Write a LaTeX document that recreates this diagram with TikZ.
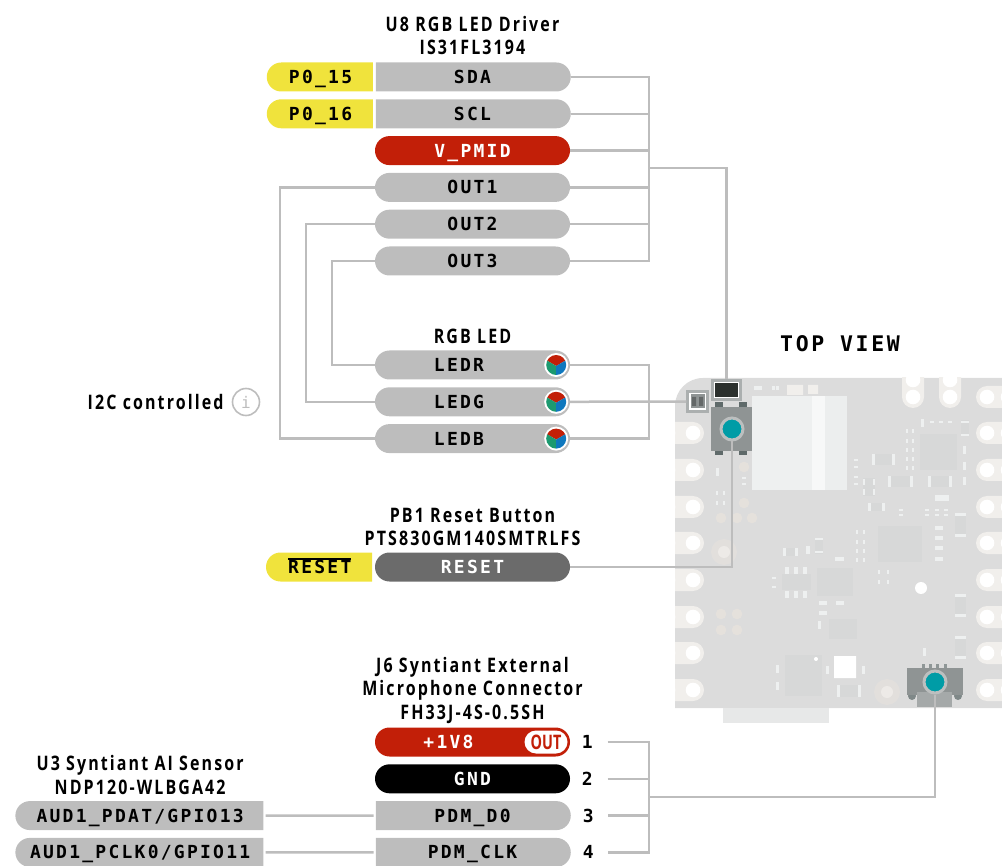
\documentclass[tikz,border=0pt]{standalone}
\usepackage{fontspec}
\newfontfamily\pinfont[LetterSpace=12.5]{DejaVu Sans Mono}
\newfontfamily\titlefont[LetterSpace=10.5,FakeStretch=0.8]{Open Sans}
\newfontfamily\tagfont[FakeStretch=0.72]{Open Sans}
\usetikzlibrary{shapes.misc, positioning}
\definecolor{pingray}{HTML}{BDBDBD}
\definecolor{pinyellow}{HTML}{F0E33C}
\definecolor{pinred}{HTML}{C21F08}
\definecolor{pindark}{HTML}{6B6B6B}
\definecolor{boardc}{HTML}{DCDCDC}
\definecolor{holec}{HTML}{F1EFEC}
\definecolor{chipc}{HTML}{D7D8D8}
\definecolor{padc}{HTML}{EEF0F0}
\definecolor{beadc}{HTML}{E5E1DC}
\definecolor{partc}{HTML}{8F9494}
\definecolor{footc}{HTML}{5F6A6A}
\definecolor{tealc}{HTML}{009CA6}
\definecolor{ledgreen}{HTML}{1C9A70}
\definecolor{ledblue}{HTML}{0F78BE}
\definecolor{ledblack}{HTML}{2B302D}
\newcommand{\barred}[1]{\leavevmode\setbox0=\hbox{#1}\rlap{\vrule width\wd0 height 15.5pt depth -14pt}\box0}
\tikzset{
  rgbdot/.pic={
    \fill[white] (0,0) circle (12);
    \begin{scope}
      \clip (0,0) circle (10);
      \fill[pinred] (0,1) -- (-17,-9) -- (-17,-20) -- (17,-20) -- (17,-9) -- cycle;
      \fill[ledgreen] (0,1) -- (-17,-9) -- (-17,20) -- (0,20) -- cycle;
      \fill[ledblue] (0,1) -- (17,-9) -- (17,20) -- (0,20) -- cycle;
    \end{scope}
  }
}
\begin{document}
\begin{tikzpicture}[
  x=1pt, y=-1pt,
  node distance=7.4pt and 2.6pt,
  pin/.style={rounded rectangle, fill=pingray, minimum width=195pt, minimum height=29pt,
              inner sep=0pt, text height=13pt, text depth=0pt,
              font=\pinfont\bfseries\fontsize{18}{20}\selectfont},
  halfpin/.style={pin, rounded rectangle west arc=none},
  altpin/.style={pin, minimum width=106pt, fill=pinyellow, rounded rectangle east arc=none},
  redpin/.style={pin, fill=pinred, text=white},
  sidepin/.style={pin, minimum width=248pt, rounded rectangle east arc=none},
  title/.style={align=center, inner sep=0pt, font=\titlefont\bfseries\fontsize{20}{23.7}\selectfont},
  num/.style={minimum width=40pt, inner sep=0pt, text height=13pt, text depth=0pt,
              font=\pinfont\bfseries\fontsize{18}{20}\selectfont},
  wire/.style={draw=pingray, line width=2.5pt},
  pad/.style={fill=padc},
  chip/.style={fill=chipc},
  endpt/.style={circle, fill=tealc, draw=partc!60!white, line width=3pt, minimum size=22pt, inner sep=0pt},
]
\path[use as bounding box, clip] (0,0) rectangle (1002,866);
% Board
\fill[boardc] (675,708) [rounded corners=28pt] -- (675,378) [sharp corners] -- (1010,378) -- (1010,708) -- cycle;
\fill[fill=padc!60!boardc] (723,708) rectangle (829,723);
\begin{scope}
  \clip (675,378) rectangle (1002,708);
  \foreach \y in {433,470,507,543,580,617,653,690} {
    \fill[holec, rounded corners=11pt] (650,\y-11) rectangle (704,\y+11);
    \fill[white] (693,\y) circle (7.3) (668,\y) circle (7.3);
  }
  \foreach \y in {397,433,470,507,543,580,617,653,690} {
    \fill[holec, rounded corners=11pt] (976,\y-11) rectangle (1030,\y+11);
    \fill[white] (987,\y) circle (7.3) (1008,\y) circle (7.3);
  }
  \foreach \x in {913,950} {
    \fill[holec, rounded corners=11pt] (\x-11,360) rectangle (\x+11,408);
    \fill[white] (\x,397) circle (7.3) (\x,380) circle (7.3);
  }
\end{scope}
% Module
\fill[padc] (752,396) rectangle (812,490);
\fill[padc!50!white] (812,396) rectangle (825,490);
\fill[padc!90!boardc] (825,396) rectangle (847,490);
% Chips
\foreach \px/\py/\pw/\ph in {938/452/37/36, 900/544/44/36, 835/582/36/28, 843/629/28/20, 803/675/37/41, 883/460/22/11,
    900/482/22/11, 940/482/22/11, 876/507/15/8, 960/525/11/22, 960/605/11/22, 960/647/11/22, 965/428/8/15, 819/546/8/15,
    848/691/20/12, 869/487/12/18, 790/552/14/8, 796/582/29/16}
  \fill[chip] ({\px-\pw/2},{\py-\ph/2}) rectangle ++(\pw,\ph);
% Small parts
\foreach \px/\py/\pw/\ph in {758/388/8/4, 773/388/3/4, 777/388/3/4, 717/472/3/8, 744/478/4/2, 744/484/4/2,
    717/493/2/4, 724/493/2/4, 717/503/2/4, 724/503/2/4, 873/460/3/11, 893/460/3/11, 889/482/3/11, 911/482/3/11,
    929/482/3/11, 950/482/3/11, 869/507/3/8, 883/507/3/8, 960/515/11/3, 960/535/11/3, 960/595/11/3, 960/615/11/3,
    960/637/11/3, 960/657/11/3, 965/422/8/2, 965/435/8/2, 819/539/8/2, 819/552/8/2, 838/691/3/12, 859/691/3/12,
    907/431/2/4, 913/431/2/4, 907/441/2/4, 913/441/2/4, 907/450/2/4, 913/450/2/4, 907/459/2/4, 913/459/2/4,
    907/468/2/4, 913/468/2/4, 922/423/3/8, 932/422/4/2, 941/422/4/2, 950/422/4/2, 964/450/3/8, 964/466/3/8,
    964/481/3/8, 856/460/4/2, 856/467/4/2, 856/477/4/2, 856/484/4/2, 864/482/2/6, 874/482/2/6, 864/492/2/6,
    874/492/2/6, 942/498/14/6, 901/510/4/2, 901/515/4/2, 927/510/4/2, 927/515/4/2, 937/510/4/2, 937/515/4/2,
    946/510/4/2, 946/515/4/2, 939/528/8/4, 939/538/8/4, 939/548/8/4, 939/559/8/4, 857/532/2/4, 864/532/2/4,
    857/542/2/4, 864/542/2/4, 857/551/2/4, 864/551/2/4, 857/560/2/4, 864/560/2/4, 784/552/3/8, 796/552/3/8,
    808/550/4/8, 839/559/9/4, 787/570/4/7, 796/570/4/7, 805/570/4/7, 787/594/4/7, 796/594/4/7, 805/594/4/7,
    774/578/4/2, 774/587/4/2, 879/572/2/4, 888/572/2/4, 879/582/2/4, 888/582/2/4, 823/603/8/4, 840/603/8/4,
    823/613/8/4, 819/625/3/8, 924/652/3/8, 777/669/3/8, 777/686/3/8, 827/670/3/8, 863/670/3/8}
  \fill[pad] ({\px-\pw/2},{\py-\ph/2}) rectangle ++(\pw,\ph);
\fill[white] (834,656) rectangle (856,678) (921,588) circle (6) (816,659) circle (2);
% Beads
\fill[holec] (795,390) ++(-8,-5) rectangle ++(16,10) (813,390) ++(-5,-5) rectangle ++(10,9);
\foreach \px/\py in {744/467, 744/503, 721/518, 737/518, 752/518, 721/614, 737/614, 721/630, 737/630}
  \fill[beadc] (\px,\py) circle (5.3);
\foreach \px/\py in {724/552, 887/692} {
  \fill[beadc!70!boardc] (\px,\py) circle (13);
  \fill[beadc!70!white] (\px,\py) circle (6);
}
% Reset button
\foreach \px/\py in {719/405, 743/405, 719/452, 743/452}
  \fill[footc] (\px-4,\py-3) rectangle ++(8,6);
\fill[partc] (711,407) rectangle (752,451);
% Connector
\foreach \px in {923,930,937,945}
  \fill[footc!70!white] (\px-1.5,664) rectangle ++(3,5);
\fill[footc!80!white] (912,696) circle (4) (958,696) circle (4);
\fill[partc] (907,668) rectangle (963,695);
\fill[partc!80!white] (917,692) rectangle (952,707);
% Board parts with call-outs
\node[minimum size=20pt, inner sep=0pt, fill=white, draw=partc!75!white, line width=2.5pt] (sensor) at (697.5,401.5) {};
\fill[partc] (690.5,394.5) rectangle (704.5,408.5);
\fill[partc!70!black] (692,397) rectangle (696,406) (699,397) rectangle (703,406);
\node[minimum width=28pt, minimum height=19pt, inner sep=0pt, fill=white, draw=partc!75!white, line width=2.5pt] (rgbled) at (726.5,390) {};
\fill[ledblack] (715,383) rectangle (738,397);
\node[endpt] (btn) at (732,429) {};
\node[endpt] (jack) at (935,682) {};
% Top group
\node[halfpin] (sda) at (472.5,77) {SDA};
\node[halfpin, below=of sda] (scl) {SCL};
\node[redpin, below=of scl] (vpmid) {V\_PMID};
\node[pin, below=of vpmid] (outa) {OUT1};
\node[pin, below=of outa] (outb) {OUT2};
\node[pin, below=of outb] (outc) {OUT3};
\node[altpin, left=of sda] (pfifteen) {P0\_15};
\node[altpin, left=of scl] (psixteen) {P0\_16};
\node[title, above=7pt of sda] (drvtitle) {U8 RGB LED Driver\\IS31FL3194};
% LED group
\node[pin] (ledr) at (472.5,365) {LEDR\hspace*{27pt}};
\node[pin, below=of ledr] (ledg) {LEDG\hspace*{27pt}};
\node[pin, below=of ledg] (ledb) {LEDB\hspace*{27pt}};
\node[title, above=6pt of ledr] (ledtitle) {RGB LED};
\foreach \n in {ledr,ledg,ledb}
  \pic at ([xshift=-14pt]\n.east) {rgbdot};
% Reset group
\node[pin, fill=pindark, text=white] (rst) at (472.5,567) {RESET};
\node[altpin, left=of rst] (rstalt) {\barred{RESET}};
\node[title, above=6pt of rst] (rsttitle) {PB1 Reset Button\\PTS830GM140SMTRLFS};
% Microphone group
\node[redpin] (vout) at (472.5,742) {+1V8\hspace*{48pt}};
\node[rounded rectangle, fill=white, minimum width=43pt, minimum height=23pt, inner sep=0pt, text=pinred,
      font=\tagfont\bfseries\fontsize{20}{22}\selectfont] (outtag) at (546,742) {OUT};
\node[pin, fill=black, text=white, below=of vout] (gnd) {GND};
\node[halfpin, below=of gnd] (pdmd) {PDM\_D0};
\node[halfpin, below=of pdmd] (pdmc) {PDM\_CLK};
\node[title, above=3.5pt of vout] (jtitle) {J6 Syntiant External\\Microphone Connector\\FH33J-4S-0.5SH};
\node[num, right=-3pt of vout] (numa) {1};
\node[num, right=-3pt of gnd] (numb) {2};
\node[num, right=-3pt of pdmd] (numc) {3};
\node[num, right=-3pt of pdmc] (numd) {4};
% Sensor pins
\node[sidepin, left=112pt of pdmd] (pdat) {AUD1\_PDAT/GPIO13};
\node[sidepin, left=112pt of pdmc] (pclk) {AUD1\_PCLK0/GPIO11};
\node[title, above=6pt of pdat] (utitle) {U3 Syntiant AI Sensor\\NDP120-WLBGA42};
% Note and heading
\node[circle, draw=pingray, line width=1.6pt, minimum size=27pt, inner sep=0pt, text=pingray,
      font=\pinfont\fontsize{16}{18}\selectfont] (info) at (246,402) {i};
\node[title, left=8pt of info] (note) {I2C controlled};
\node[inner sep=0pt, font=\pinfont\bfseries\fontsize{21.5}{24}\selectfont] (topview) at (840,344) {TOP VIEW};
% Bus coordinates
\coordinate (drvbus) at (649,168);
\coordinate (ledbus) at (649,402);
\coordinate (micbus) at (649,797);
% Driver wires
\foreach \n in {sda,scl,vpmid,outa,outb,outc}
  \draw[wire] (\n.east) -- (\n.east -| drvbus);
\draw[wire, line cap=rect] (sda.east -| drvbus) -- (outc.east -| drvbus);
\draw[wire] (drvbus) -| (rgbled.north);
\draw[wire] (outa.west) -- ++(-95,0) |- (ledb.west);
\draw[wire] (outb.west) -- ++(-69,0) |- (ledg.west);
\draw[wire] (outc.west) -- ++(-43,0) |- (ledr.west);
% LED wires
\draw[wire] (ledr.east) -| (ledbus) |- (ledb.east);
\draw[wire] (ledg.east) -- (sensor.west);
\draw[wire] (rst.east) -| (btn.south);
% Microphone wires
\foreach \n in {numa,numb,numc,numd}
  \draw[wire] (\n.east) -- (\n.east -| micbus);
\draw[wire, line cap=rect] (numa.east -| micbus) -- (numd.east -| micbus);
\draw[wire] (micbus) -| (jack.south);
\draw[wire, shorten <=2pt, shorten >=2pt] (pdat) -- (pdmd);
\draw[wire, shorten <=2pt, shorten >=2pt] (pclk) -- (pdmc);
\end{tikzpicture}
\end{document}
